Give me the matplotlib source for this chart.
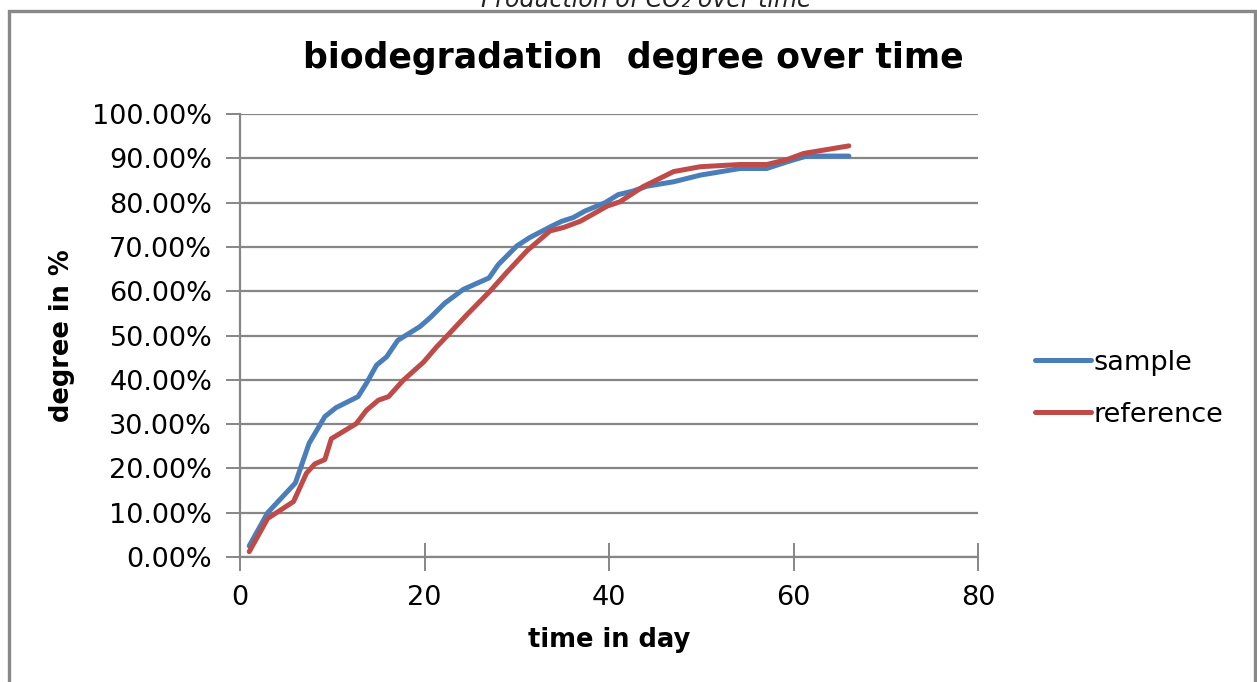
import matplotlib
matplotlib.use("Agg")
import matplotlib.pyplot as plt
from matplotlib.patches import Rectangle
from matplotlib.ticker import FuncFormatter

plt.rcParams['font.family'] = ['DejaVu Sans']

# data (day, fraction)
sample_days = [1, 3, 6, 7.5, 9.2, 10.4, 12.8, 13.7, 14.8, 15.9, 17.1, 19.5, 20.6, 22.2,
               24.2, 27, 28, 30, 31.4, 33.8, 34.9, 36.1, 37.4, 39.6, 41, 42.6, 44.1,
               47, 49.9, 54.2, 57.1, 59.3, 61.4, 66]
sample_vals = [0.025, 0.10, 0.167, 0.257, 0.317, 0.337, 0.362, 0.392, 0.433, 0.452, 0.489,
               0.52, 0.54, 0.573, 0.604, 0.63, 0.66, 0.702, 0.721, 0.747, 0.758, 0.766,
               0.781, 0.80, 0.818, 0.826, 0.837, 0.847, 0.862, 0.877, 0.877, 0.892,
               0.905, 0.905]

ref_days = [1, 3, 5.8, 7.2, 8.1, 9.2, 9.9, 12.6, 13.7, 15, 16.1, 17.7, 19.9, 21.3, 22.4,
            24.6, 27.1, 28.9, 31.1, 33.6, 35.1, 36.9, 39.8, 41.2, 43.7, 47, 49.9, 54.2,
            57.1, 59.3, 61.1, 66]
ref_vals = [0.012, 0.087, 0.125, 0.189, 0.21, 0.22, 0.267, 0.301, 0.331, 0.354, 0.362,
            0.399, 0.44, 0.474, 0.498, 0.547, 0.60, 0.642, 0.691, 0.736, 0.744, 0.758,
            0.792, 0.802, 0.836, 0.87, 0.881, 0.886, 0.886, 0.897, 0.911, 0.928]

x_ticks = [0, 20, 40, 60, 80]
y_ticks = [i / 10 for i in range(11)]

grey = '#868686'

fig = plt.figure(figsize=(12.57, 6.82), dpi=100)

# outer chart frame (bottom edge runs past the image)
fig.patches.append(Rectangle((9 / 1257, -0.05), (1255 - 9) / 1257, 1.05 - 11 / 682,
                             transform=fig.transFigure, fill=False,
                             edgecolor='#888888', linewidth=2.4))

# clipped heading from the chart above
fig.text(646 / 1257, 1.0, 'Production of CO₂ over time', ha='center', va='center',
         fontsize=17, style='italic', color='#222222')

fig.text(633 / 1257, 1 - 58 / 682, 'biodegradation  degree over time', ha='center',
         va='center', fontsize=25, fontweight='bold')

ax = fig.add_axes([240 / 1257, 125 / 682, 738 / 1257, 443 / 682])

ax.plot(sample_days, sample_vals, color='#4a7ebb', linewidth=3.6, label='sample',
        solid_capstyle='round', zorder=3)
ax.plot(ref_days, ref_vals, color='#be4b48', linewidth=3.6, label='reference',
        solid_capstyle='round', zorder=3)

ax.set_xlim(0, 80)
ax.set_ylim(0, 1)
ax.set_xticks(x_ticks)
ax.set_yticks(y_ticks)
ax.yaxis.set_major_formatter(FuncFormatter(lambda v, p: f'{v * 100:.2f}%'))

ax.grid(axis='y', color=grey, linewidth=1.6)
ax.set_axisbelow(True)
for s in ['top', 'right']:
    ax.spines[s].set_visible(False)
for s in ['left', 'bottom']:
    ax.spines[s].set_color(grey)
    ax.spines[s].set_linewidth(1.6)

ax.tick_params(axis='both', colors=grey, labelcolor='black', labelsize=19.5, width=1.4)
ax.tick_params(axis='y', direction='out', length=10, pad=10)
ax.tick_params(axis='x', direction='inout', length=20, pad=10)

ax.set_xlabel('time in day', fontsize=18.5, fontweight='bold', va='center')
ax.set_ylabel('degree in %', fontsize=18.5, fontweight='bold', va='center')
ax.xaxis.set_label_coords(0.5, -0.187)
ax.yaxis.set_label_coords(-0.241, 0.5)

ax.legend(loc='center left', bbox_to_anchor=(1.063, 0.38), frameon=False, fontsize=19.5,
          handlelength=2.05, handletextpad=0.1, labelspacing=0.95, borderaxespad=0)

fig.savefig('out.png', dpi=100)
